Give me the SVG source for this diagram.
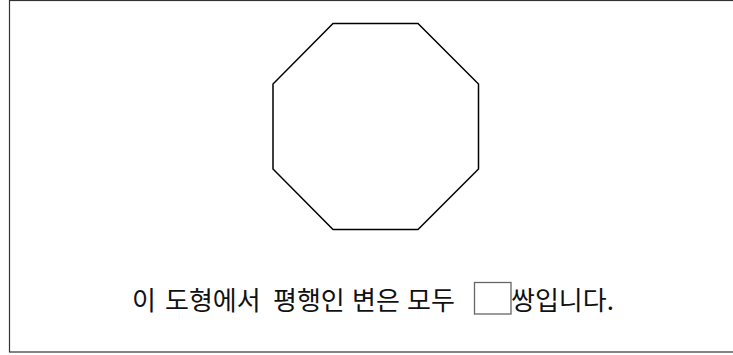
<svg xmlns="http://www.w3.org/2000/svg" width="733" height="355" viewBox="0 0 733 355">
  <style>
    .frame { fill: none; stroke: #333333; stroke-width: 1.2; }
    .shape { fill: #ffffff; stroke: #000000; stroke-width: 1.5; stroke-linejoin: miter; }
    .label { font-family: "Noto Sans CJK KR", "Noto Sans", sans-serif; font-size: 26px; fill: #111111; }
    .blank { fill: #ffffff; stroke: #666666; stroke-width: 1.3; }
  </style>
  <rect width="733" height="355" fill="#ffffff"/>
  <g id="frame">
    <rect class="frame" x="9.5" y="0.5" width="740" height="351.5"/>
  </g>
  <g id="octagon">
    <polygon class="shape" points="333,23.5 418,23.5 478.5,84 478.5,169 418,229.5 333,229.5 273,169 273,84"/>
  </g>
  <g id="sentence">
    <text class="label" y="310"><tspan x="132">이</tspan><tspan x="165">도형에서</tspan><tspan x="273">평행인</tspan><tspan x="352">변은</tspan><tspan x="407">모두</tspan><tspan x="511">쌍입니다.</tspan></text>
    <rect id="answer-box" class="blank" x="474.5" y="282.5" width="36.5" height="31.5"/>
  </g>
</svg>
